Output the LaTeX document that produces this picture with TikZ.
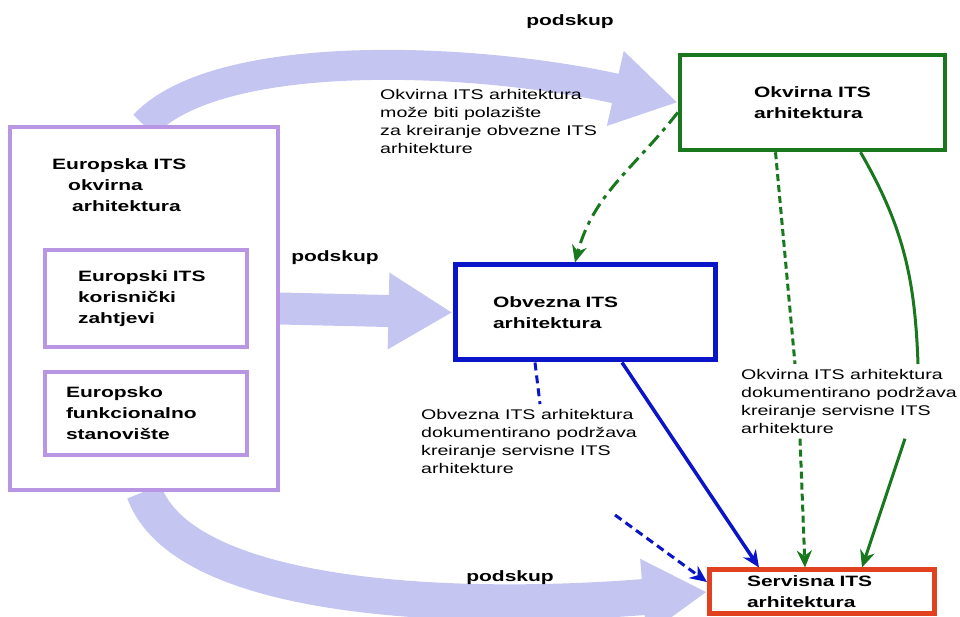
\documentclass[tikz,border=0pt]{standalone}
\usepackage{fontspec}
\setmainfont{Liberation Sans}[FakeStretch=1.4]
\usetikzlibrary{arrows.meta,backgrounds}
\definecolor{lav}{RGB}{197,197,242}
\definecolor{purp}{RGB}{185,150,228}
\definecolor{itsgreen}{RGB}{25,120,30}
\definecolor{itsblue}{RGB}{10,20,200}
\definecolor{itsred}{RGB}{225,65,30}
\newcommand{\boxfont}{\fontsize{15}{21}\selectfont\bfseries}
\newcommand{\notefont}{\fontsize{14}{18}\selectfont}
\tikzstyle{outerbox} = [rectangle, draw=purp, fill=white, line width=3.5pt, minimum width=268pt, minimum height=363pt]
\tikzstyle{innerbox} = [rectangle, draw=purp, fill=white, line width=3.5pt, minimum width=202pt, align=left, font=\boxfont]
\tikzstyle{itsbox} = [rectangle, fill=white, line width=4.5pt, align=left, font=\boxfont, inner sep=2pt]
\tikzstyle{note} = [anchor=north west, inner sep=0pt, align=left, font=\notefont]
\tikzstyle{bigarrow} = [lav, line width=32pt, -{Triangle[width=72pt,length=64pt]}]
\tikzstyle{arrow} = [line width=3pt, -{Stealth[length=17pt,width=15pt]}]

\begin{document}
\begin{tikzpicture}[x=1pt, y=1pt]
	\useasboundingbox (0,0) rectangle (960,617);
	% left block
	\node (europska) [outerbox] at (144,308.5) {};
	\node (europskatxt) [note, font=\boxfont] at (52,459) {Europska ITS\\\hspace*{16pt}okvirna\\\hspace*{20pt}arhitektura};
	\node (korisnicki) [innerbox, minimum height=97pt, text width=136pt] at (146,318.5) {Europski ITS\\korisnički\\zahtjevi};
	\node (funkcionalno) [innerbox, minimum height=83pt, text width=160pt] at (146,203.5) {Europsko\\funkcionalno\\stanovište};
	% architectures
	\node (okvirna) [itsbox, draw=itsgreen, minimum width=265pt, minimum height=95pt] at (812.5,514.5) {Okvirna ITS\\arhitektura};
	\node (obvezna) [itsbox, draw=itsblue, line width=5pt, minimum width=260pt, minimum height=95pt, text width=184pt] at (585,304.5) {Obvezna ITS\\arhitektura};
	\node (servisna) [itsbox, draw=itsred, line width=5pt, minimum width=225pt, minimum height=44pt, text width=150pt] at (822,25) {Servisna ITS\\arhitektura};
	% labels
	\node (podskup1) [font=\boxfont] at (570,595) {podskup};
	\node (podskup2) [font=\boxfont] at (335,359) {podskup};
	\node (podskup3) [font=\boxfont] at (510,39) {podskup};
	\node (note1) [note] at (380,528) {Okvirna ITS arhitektura\\može biti polazište\\za kreiranje obvezne ITS\\arhitekture};
	\node (note2) [note] at (421,208) {Obvezna ITS arhitektura\\dokumentirano podržava\\kreiranje servisne ITS\\arhitekture};
	\node (note3) [note] at (741,248) {Okvirna ITS arhitektura\\dokumentirano podržava\\kreiranje servisne ITS\\arhitekture};
	\coordinate (bluestart) at (615,102);
	% subset arrows
	\begin{scope}[on background layer]
		\draw [bigarrow, line width=30pt] (europska.north) .. controls +(75,80) and +(-200,45) .. (okvirna.west);
		\draw [bigarrow] (europska.east) -- (obvezna.west);
		\draw [bigarrow, line width=36pt] (europska.south) .. controls +(40,-110) and +(-250,-20) .. (servisna.west);
	\end{scope}
	% green connectors
	\draw [arrow, itsgreen, dash pattern=on 14pt off 6pt on 4pt off 6pt] ([yshift=-10pt]okvirna.west) to[out=232,in=75] ([xshift=-10pt]obvezna.north);
	\draw [itsgreen, line width=3pt, dash pattern=on 7pt off 4pt] ([xshift=-37pt]okvirna.south) -- ([xshift=54pt,yshift=5pt]note3.north west);
	\draw [arrow, itsgreen, dash pattern=on 7pt off 4pt] ([xshift=59pt,yshift=-5pt]note3.south west) -- ([xshift=-17pt]servisna.north);
	\draw [itsgreen, line width=3pt] ([xshift=48pt]okvirna.south) to[out=-60,in=92] ([xshift=177pt,yshift=5pt]note3.north west);
	\draw [arrow, itsgreen] ([xshift=164pt,yshift=-5pt]note3.south west) -- ([xshift=40pt]servisna.north);
	% blue connectors
	\draw [arrow, itsblue, line width=3.5pt] ([xshift=37pt]obvezna.south) -- ([xshift=52pt]servisna.north west);
	\draw [itsblue, line width=3pt, dash pattern=on 8pt off 5pt] ([xshift=-50pt]obvezna.south) -- ([xshift=119pt,yshift=5pt]note2.north west);
	\draw [arrow, itsblue, dash pattern=on 8pt off 5pt] (bluestart) -- ([yshift=10pt]servisna.west);
\end{tikzpicture}
\end{document}
